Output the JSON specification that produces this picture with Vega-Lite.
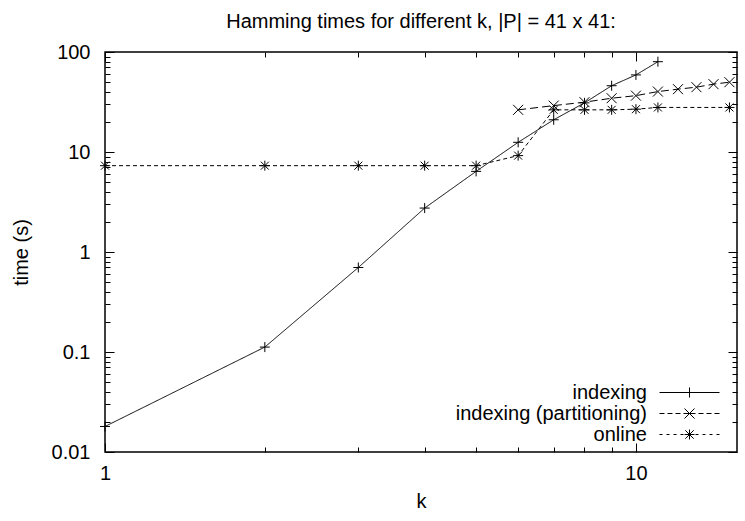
{
  "$schema": "https://vega.github.io/schema/vega-lite/v6.json",
  "width": 632,
  "height": 400,
  "autosize": {"type": "none"},
  "padding": {"left": 105, "top": 52, "right": 8, "bottom": 69},
  "background": "white",
  "title": {
    "text": "Hamming times for different k, |P| = 41 x 41:",
    "font": "Liberation Sans",
    "fontSize": 20,
    "fontWeight": "normal",
    "color": "black",
    "baseline": "alphabetic",
    "frame": "group",
    "offset": -6
  },
  "config": {
    "view": {"stroke": "black", "strokeWidth": 1.5},
    "axis": {
      "labelFont": "Liberation Sans",
      "labelFontSize": 20,
      "labelColor": "black",
      "titleFont": "Liberation Sans",
      "titleFontSize": 20,
      "titleFontWeight": "normal",
      "titleColor": "black",
      "tickColor": "black",
      "tickWidth": 1,
      "domain": false,
      "grid": false,
      "labelFlush": false,
      "labelOverlap": false,
      "labelBound": false
    }
  },
  "data": {
    "values": [
      {"series": "indexing", "k": 1, "t": 0.018},
      {"series": "indexing", "k": 2, "t": 0.112},
      {"series": "indexing", "k": 3, "t": 0.7},
      {"series": "indexing", "k": 4, "t": 2.75},
      {"series": "indexing", "k": 5, "t": 6.4},
      {"series": "indexing", "k": 6, "t": 12.5},
      {"series": "indexing", "k": 7, "t": 21},
      {"series": "indexing", "k": 8, "t": 31},
      {"series": "indexing", "k": 9, "t": 46},
      {"series": "indexing", "k": 10, "t": 59},
      {"series": "indexing", "k": 11, "t": 80},
      {"series": "indexing (partitioning)", "k": 6, "t": 26.4},
      {"series": "indexing (partitioning)", "k": 7, "t": 29.1},
      {"series": "indexing (partitioning)", "k": 8, "t": 31.5},
      {"series": "indexing (partitioning)", "k": 9, "t": 34.5},
      {"series": "indexing (partitioning)", "k": 10, "t": 36.6},
      {"series": "indexing (partitioning)", "k": 11, "t": 40.2},
      {"series": "indexing (partitioning)", "k": 12, "t": 42.5},
      {"series": "indexing (partitioning)", "k": 13, "t": 44.5},
      {"series": "indexing (partitioning)", "k": 14, "t": 47.7},
      {"series": "indexing (partitioning)", "k": 15, "t": 49.9},
      {"series": "online", "k": 1, "t": 7.3},
      {"series": "online", "k": 2, "t": 7.3},
      {"series": "online", "k": 3, "t": 7.3},
      {"series": "online", "k": 4, "t": 7.3},
      {"series": "online", "k": 5, "t": 7.3},
      {"series": "online", "k": 6, "t": 9.2},
      {"series": "online", "k": 7, "t": 26.4},
      {"series": "online", "k": 8, "t": 26.4},
      {"series": "online", "k": 9, "t": 26.4},
      {"series": "online", "k": 10, "t": 26.8},
      {"series": "online", "k": 11, "t": 27.9},
      {"series": "online", "k": 15, "t": 27.9}
    ]
  },
  "resolve": {
    "axis": {"x": "independent", "y": "independent"},
    "scale": {"shape": "independent"}
  },
  "layer": [
    {
      "mark": {"type": "line", "color": "black", "strokeWidth": 1},
      "encoding": {
        "x": {
          "field": "k",
          "type": "quantitative",
          "scale": {"type": "log", "domain": [1, 15.5], "nice": false},
          "axis": {
            "orient": "bottom",
            "title": "k",
            "titlePadding": 4,
            "values": [1, 2, 3, 4, 5, 6, 7, 8, 9, 10],
            "labelExpr": "datum.value == 1 || datum.value == 10 ? format(datum.value, 'd') : ''",
            "tickSize": {"condition": {"test": "datum.value == 1 || datum.value == 10", "value": -9}, "value": -5},
            "labelPadding": 20
          }
        },
        "y": {
          "field": "t",
          "type": "quantitative",
          "scale": {"type": "log", "domain": [0.01, 100], "nice": false},
          "axis": {
            "orient": "left",
            "title": "time (s)",
            "titlePadding": 20,
            "values": [0.01, 0.02, 0.03, 0.04, 0.05, 0.06, 0.07, 0.08, 0.09, 0.1, 0.2, 0.3, 0.4, 0.5, 0.6, 0.7, 0.8, 0.9, 1, 2, 3, 4, 5, 6, 7, 8, 9, 10, 20, 30, 40, 50, 60, 70, 80, 90, 100],
            "labelExpr": "indexof([0.01, 0.1, 1, 10, 100], datum.value) >= 0 ? format(datum.value, '~g') : ''",
            "tickSize": {"condition": {"test": "indexof([0.01, 0.1, 1, 10, 100], datum.value) >= 0", "value": -9}, "value": -5},
            "labelPadding": 24
          }
        },
        "strokeDash": {
          "field": "series",
          "type": "nominal",
          "scale": {"domain": ["indexing", "indexing (partitioning)", "online"], "range": [[1, 0], [8, 4], [4, 3]]},
          "legend": null
        }
      }
    },
    {
      "mark": {"type": "point", "filled": false, "color": "black", "strokeWidth": 1, "opacity": 1, "size": 100},
      "encoding": {
        "x": {"field": "k", "type": "quantitative", "axis": null},
        "y": {"field": "t", "type": "quantitative", "axis": null},
        "shape": {
          "field": "series",
          "type": "nominal",
          "scale": {
            "domain": ["indexing", "indexing (partitioning)", "online"],
            "range": [
              "M-1,0H1M0,-1V1",
              "M-1,-1L1,1M-1,1L1,-1",
              "M-1,0H1M0,-1V1M-0.8,-0.8L0.8,0.8M-0.8,0.8L0.8,-0.8"
            ]
          },
          "legend": null
        }
      }
    },
    {
      "mark": {"type": "point", "filled": false, "color": "black", "strokeWidth": 1, "opacity": 0},
      "encoding": {
        "x": {"field": "k", "type": "quantitative", "axis": null},
        "y": {"field": "t", "type": "quantitative", "axis": null},
        "shape": {
          "field": "series",
          "type": "nominal",
          "scale": {
            "domain": ["indexing", "indexing (partitioning)", "online"],
            "range": [
              "M-3,0H3M0,-0.5V0.5M3.8,0",
              "M-3,0H-2.5M-2.2,0H-1.7M-1.4,0H-0.9M-0.6,0H0.6M0.9,0H1.4M1.7,0H2.2M2.5,0H3M-0.5,-0.5L0.5,0.5M-0.5,0.5L0.5,-0.5M3.8,0",
              "M-3,0H-2.7M-2.3,0H-2M-1.6,0H-1.3M-0.9,0H-0.6M-0.2,0H0.2M0.6,0H0.9M1.3,0H1.6M2,0H2.3M2.7,0H3M-0.5,0H0.5M0,-0.5V0.5M-0.42,-0.42L0.42,0.42M-0.42,0.42L0.42,-0.42M3.8,0"
            ]
          },
          "legend": {
            "title": null,
            "orient": "bottom-right",
            "offset": 7,
            "padding": 0,
            "rowPadding": -1,
            "symbolSize": 400,
            "symbolOffset": 20,
            "symbolOpacity": 1,
            "symbolStrokeColor": "black",
            "symbolFillColor": "transparent",
            "symbolStrokeWidth": 1,
            "labelFont": "Liberation Sans",
            "labelFontSize": 20,
            "labelColor": "black",
            "labelAlign": "right",
            "labelOffset": -53,
            "labelLimit": 400
          }
        }
      }
    },
    {
      "mark": {"type": "point", "opacity": 0},
      "encoding": {
        "x": {
          "field": "k",
          "type": "quantitative",
          "axis": {
            "orient": "top",
            "title": null,
            "labels": false,
            "values": [1, 2, 3, 4, 5, 6, 7, 8, 9, 10],
            "tickSize": {"condition": {"test": "datum.value == 1 || datum.value == 10", "value": -9}, "value": -5}
          }
        },
        "y": {
          "field": "t",
          "type": "quantitative",
          "axis": {
            "orient": "right",
            "title": null,
            "labels": false,
            "values": [0.01, 0.02, 0.03, 0.04, 0.05, 0.06, 0.07, 0.08, 0.09, 0.1, 0.2, 0.3, 0.4, 0.5, 0.6, 0.7, 0.8, 0.9, 1, 2, 3, 4, 5, 6, 7, 8, 9, 10, 20, 30, 40, 50, 60, 70, 80, 90, 100],
            "tickSize": {"condition": {"test": "indexof([0.01, 0.1, 1, 10, 100], datum.value) >= 0", "value": -9}, "value": -5}
          }
        }
      }
    }
  ]
}
